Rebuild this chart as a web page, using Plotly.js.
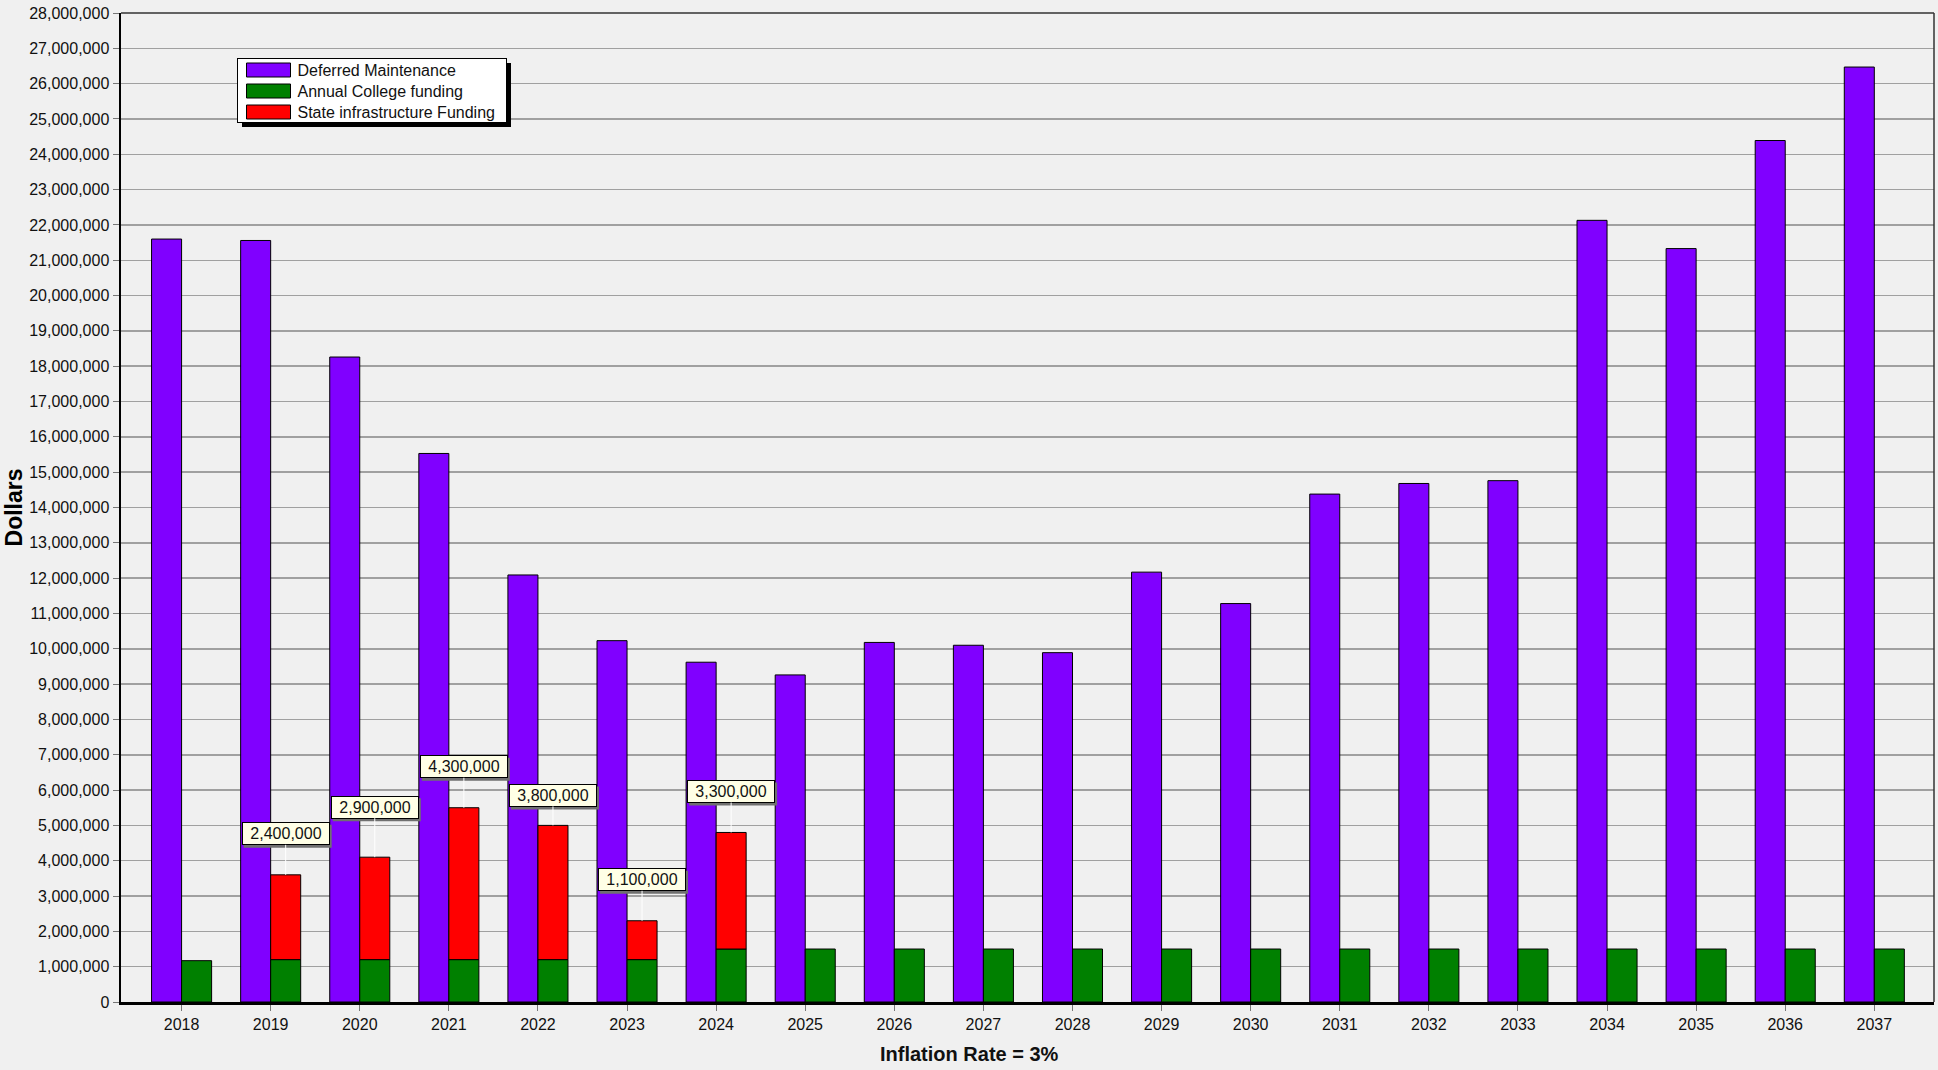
<!DOCTYPE html>
<html>
<head>
<meta charset="utf-8">
<script src="https://cdn.plot.ly/plotly-3.0.1.min.js"></script>
<style>
  html, body { margin: 0; padding: 0; background: #f0f0f0; }
  #chart { width: 1938px; height: 1070px; }
</style>
</head>
<body>
<div id="chart"></div>
<script>
// ---- Data ----
const years = ['2018','2019','2020','2021','2022','2023','2024','2025','2026','2027',
               '2028','2029','2030','2031','2032','2033','2034','2035','2036','2037'];
const deferredMaintenance = [21600000, 21560000, 18260000, 15530000, 12090000, 10230000, 9620000, 9260000, 10180000, 10100000,
                             9890000, 12170000, 11280000, 14380000, 14680000, 14760000, 22130000, 21330000, 24390000, 26470000];
const annualCollegeFunding = [1170000, 1200000, 1200000, 1200000, 1200000, 1200000, 1500000, 1500000, 1500000, 1500000,
                              1500000, 1500000, 1500000, 1500000, 1500000, 1500000, 1500000, 1500000, 1500000, 1500000];
const stateInfrastructureFunding = [null, 2400000, 2900000, 4300000, 3800000, 1100000, 3300000, null, null, null,
                                    null, null, null, null, null, null, null, null, null, null];
const seriesNames = ['Deferred Maintenance', 'Annual College funding', 'State infrastructure Funding'];

// ---- Style ----
const FONT = 'Liberation Sans, Arial, Helvetica, sans-serif';
const BAR_W = 0.337;
const labelLift = [null, 41, 50, 41, 30, 41, 41, null, null, null, null, null, null, null, null, null, null, null, null, null];
const PLOT = { l: 121, r: 4, t: 13, b: 68 };
const LEGEND_BOX = { left: 237, top: 58, width: 269, height: 64, rowCenters: [12, 33, 54], swatchLeft: 9, swatchW: 44, swatchH: 14, textLeft: 60 };

const outline = { color: '#000000', width: 1 };

const traces = [
  {
    type: 'bar', name: seriesNames[0], x: years, y: deferredMaintenance,
    offset: -BAR_W, width: BAR_W,
    marker: { color: '#8000ff', line: outline }, hoverinfo: 'x+y+name'
  },
  {
    type: 'bar', name: seriesNames[1], x: years, y: annualCollegeFunding,
    offset: 0, width: BAR_W,
    marker: { color: '#008000', line: outline }, hoverinfo: 'x+y+name'
  },
  {
    type: 'bar', name: seriesNames[2], x: years, y: stateInfrastructureFunding,
    base: annualCollegeFunding,
    offset: 0, width: BAR_W,
    marker: { color: '#ff0000', line: outline }, hoverinfo: 'x+y+name'
  }
];

const plotW = 1938 - PLOT.l - PLOT.r;
const plotH = 1070 - PLOT.t - PLOT.b;

const annotations = [];
const shapes = [
  { type: 'line', xref: 'paper', yref: 'paper', x0: 0, x1: 1, y0: 1, y1: 1, line: { color: '#333333', width: 1.5 } },
  { type: 'line', xref: 'paper', yref: 'paper', x0: 1, x1: 1, y0: 0, y1: 1, line: { color: '#333333', width: 1.5 } },
  // legend drop shadow
  { type: 'rect', xref: 'paper', yref: 'paper', layer: 'above',
    x0: (LEGEND_BOX.left + 5 - PLOT.l) / plotW, x1: (LEGEND_BOX.left + LEGEND_BOX.width + 5 - PLOT.l) / plotW,
    y0: 1 - (LEGEND_BOX.top + LEGEND_BOX.height + 5 - PLOT.t) / plotH, y1: 1 - (LEGEND_BOX.top + 5 - PLOT.t) / plotH,
    fillcolor: '#000000', line: { width: 0 } }
];

stateInfrastructureFunding.forEach((v, i) => {
  if (v == null) return;
  const xa = i + BAR_W / 2;
  const ya = annualCollegeFunding[i] + v;
  annotations.push({
    x: xa, y: ya, xref: 'x', yref: 'y',
    text: v.toLocaleString('en-US'),
    showarrow: true, arrowhead: 0, arrowwidth: 1, arrowcolor: '#ffffff',
    ax: 0, ay: -labelLift[i],
    bgcolor: '#ffffe6', bordercolor: '#000000', borderwidth: 1, borderpad: 1,
    width: 84, height: 19,
    font: { family: FONT, size: 16, color: '#111111' }
  });
  // small gray shadow behind each callout box
  shapes.push({
    type: 'rect', layer: 'above', xref: 'x', yref: 'y',
    xsizemode: 'pixel', ysizemode: 'pixel', xanchor: xa, yanchor: ya,
    x0: -42, x1: 46, y0: labelLift[i] - 14, y1: labelLift[i] + 9,
    fillcolor: '#707070', line: { width: 0 }
  });
});

// x-axis title (centered on the page like the reference)
annotations.push({
  xref: 'paper', yref: 'paper', x: (969 - PLOT.l) / plotW, y: 0,
  yshift: -52, xanchor: 'center', yanchor: 'middle', showarrow: false,
  text: '<b>Inflation Rate = 3%</b>',
  font: { family: FONT, size: 20, color: '#111111' }
});

const layout = {
  width: 1938, height: 1070,
  paper_bgcolor: '#f0f0f0', plot_bgcolor: '#f0f0f0',
  margin: PLOT,
  barmode: 'overlay',
  font: { family: FONT, size: 16, color: '#111111' },
  showlegend: true,
  legend: {
    x: (LEGEND_BOX.left - PLOT.l) / plotW, y: 1 - (LEGEND_BOX.top - PLOT.t) / plotH,
    xanchor: 'left', yanchor: 'top',
    bgcolor: '#ffffff', bordercolor: '#000000', borderwidth: 1,
    font: { family: FONT, size: 16, color: '#111111' },
    traceorder: 'normal', itemwidth: 44, tracegroupgap: 0
  },
  xaxis: {
    type: 'category', range: [-0.68, 19.67],
    showgrid: false, zeroline: false,
    showline: true, linecolor: '#000000', linewidth: 2.5,
    ticks: 'outside', ticklen: 6, tickcolor: '#777777', tickwidth: 1,
    tickfont: { family: FONT, size: 16, color: '#111111' },
    fixedrange: true
  },
  yaxis: {
    range: [0, 28000000], dtick: 1000000, tick0: 0,
    tickformat: ',d',
    showgrid: true, gridcolor: '#a0a0a0', gridwidth: 1.5,
    zeroline: false,
    showline: true, linecolor: '#000000', linewidth: 2.5,
    ticks: 'outside', ticklen: 6, tickcolor: '#777777', tickwidth: 1,
    tickfont: { family: FONT, size: 16, color: '#111111' },
    title: { text: '<b>Dollars</b>', font: { family: FONT, size: 23, color: '#000000' }, standoff: 0 },
    fixedrange: true
  },
  shapes: shapes,
  annotations: annotations
};

Plotly.newPlot('chart', traces, layout, { displayModeBar: false, staticPlot: true }).then(gd => {
  // Reshape the legend to the reference look: wide swatches, tighter rows.
  const leg = gd.querySelector('.legend');
  if (!leg) return;
  const bg = leg.querySelector('rect.bg');
  const host = gd.getBoundingClientRect();
  const legRect0 = bg.getBoundingClientRect();
  const legLeft = legRect0.left - host.left;
  const legTop = legRect0.top - host.top;
  bg.setAttribute('width', LEGEND_BOX.width);
  bg.setAttribute('height', LEGEND_BOX.height);
  leg.querySelectorAll('g.traces').forEach((g, i) => {
    const tf = g.getAttribute('transform') || '';
    const m = tf.match(/translate\(\s*([-\d.]+)[ ,]+([-\d.]+)\s*\)/);
    const tx = m ? parseFloat(m[1]) : 0;
    g.setAttribute('transform', 'translate(' + tx + ',' + LEGEND_BOX.rowCenters[i] + ')');
    const p = g.querySelector('.legendpoints path');
    if (p) {
      const pr = p.getBoundingClientRect();
      const cx = (pr.left + pr.right) / 2 - host.left;
      const x0 = legLeft + LEGEND_BOX.swatchLeft - cx;
      const x1 = x0 + LEGEND_BOX.swatchW;
      const h = LEGEND_BOX.swatchH / 2;
      p.setAttribute('d', 'M' + x0 + ',' + (-h) + 'H' + x1 + 'V' + h + 'H' + x0 + 'Z');
    }
    const t = g.querySelector('text.legendtext');
    if (t) {
      const tr = t.getBoundingClientRect();
      const dx = (legLeft + LEGEND_BOX.textLeft) - (tr.left - host.left);
      t.setAttribute('x', parseFloat(t.getAttribute('x') || 0) + dx);
    }
  });
});
</script>
</body>
</html>
